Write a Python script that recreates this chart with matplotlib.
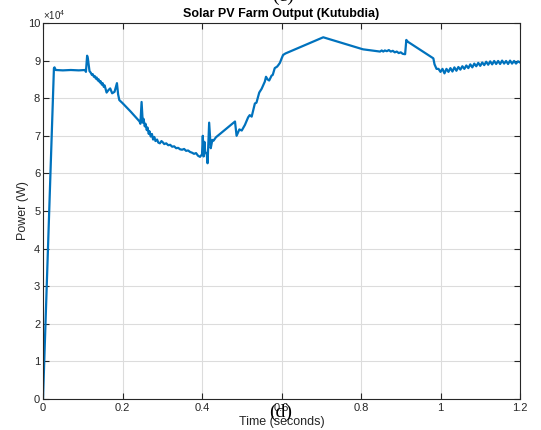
import matplotlib
matplotlib.use("Agg")
import matplotlib.pyplot as plt
import numpy as np

# Time (s) and Power (x1e4 W)
time_s = [0.0, 0.0275, 0.029, 0.032, 0.05, 0.07, 0.09, 0.106, 0.108, 0.111, 0.113, 0.117,
          0.120, 0.123, 0.125, 0.128, 0.130, 0.133, 0.135, 0.138, 0.140, 0.143, 0.145, 0.148,
          0.150, 0.153, 0.155, 0.158, 0.160, 0.165, 0.169, 0.174, 0.180, 0.186, 0.189, 0.192,
          0.20, 0.22, 0.243, 0.245, 0.248, 0.251, 0.253, 0.256, 0.258, 0.261, 0.263, 0.266,
          0.268, 0.271, 0.274, 0.277, 0.280, 0.283, 0.287, 0.290, 0.294, 0.298, 0.302,
          0.305, 0.31, 0.315, 0.32, 0.325, 0.33, 0.335, 0.34, 0.345, 0.35, 0.355, 0.36, 0.365,
          0.37, 0.375, 0.38, 0.385, 0.39, 0.395, 0.398, 0.400, 0.402, 0.404, 0.406, 0.408,
          0.412, 0.414, 0.418, 0.422, 0.426, 0.429, 0.435, 0.483, 0.487, 0.494, 0.500, 0.508,
          0.516, 0.520, 0.525, 0.533, 0.537, 0.544, 0.550, 0.558, 0.561, 0.565, 0.569, 0.575,
          0.578, 0.583, 0.589, 0.592, 0.596, 0.600, 0.604, 0.610, 0.705, 0.805, 0.848, 0.852,
          0.856, 0.86, 0.865, 0.87, 0.875, 0.88, 0.885, 0.89, 0.895, 0.90, 0.905, 0.911, 0.914,
          0.918, 0.982, 0.985, 0.99, 0.995, 1.0, 1.005, 1.01, 1.015, 1.02, 1.025, 1.03, 1.035,
          1.04, 1.045, 1.05, 1.055, 1.06, 1.065, 1.07, 1.075, 1.08, 1.085, 1.09, 1.095, 1.1,
          1.105, 1.11, 1.115, 1.12, 1.125, 1.13, 1.135, 1.14, 1.145, 1.15, 1.155, 1.16, 1.165,
          1.17, 1.175, 1.18, 1.185, 1.19, 1.195, 1.2]
power_e4 = [0.0, 8.80, 8.82, 8.75, 8.74, 8.75, 8.74, 8.75, 8.70, 9.13, 9.05, 8.72,
            8.68, 8.62, 8.64, 8.57, 8.59, 8.52, 8.55, 8.47, 8.50, 8.42, 8.45, 8.36,
            8.40, 8.30, 8.34, 8.22, 8.15, 8.22, 8.26, 8.13, 8.17, 8.40, 8.10, 7.95,
            7.87, 7.65, 7.38, 7.32, 7.90, 7.35, 7.45, 7.25, 7.32, 7.15, 7.22, 7.05,
            7.12, 6.98, 7.05, 6.90, 6.97, 6.86, 6.90, 6.82, 6.80, 6.86, 6.82,
            6.78, 6.80, 6.75, 6.76, 6.71, 6.72, 6.67, 6.68, 6.64, 6.63, 6.65, 6.60, 6.61,
            6.57, 6.55, 6.52, 6.54, 6.47, 6.44, 6.48, 6.50, 7.00, 6.45, 6.84, 6.58,
            6.50, 6.27, 7.35, 6.67, 6.89, 6.87, 6.96, 7.38, 7.00, 7.17, 7.14, 7.29,
            7.49, 7.55, 7.51, 7.86, 7.88, 8.15, 8.25, 8.44, 8.57, 8.50, 8.47, 8.60,
            8.62, 8.80, 8.84, 8.88, 8.94, 9.05, 9.15, 9.19, 9.62, 9.30, 9.24, 9.27,
            9.24, 9.27, 9.25, 9.28, 9.24, 9.26, 9.22, 9.24, 9.20, 9.22, 9.18, 9.17, 9.55,
            9.50, 9.06, 8.90, 8.78, 8.78, 8.70, 8.78, 8.66, 8.78, 8.70, 8.80, 8.71, 8.82,
            8.73, 8.83, 8.76, 8.85, 8.78, 8.87, 8.80, 8.90, 8.82, 8.92, 8.85, 8.94, 8.86,
            8.95, 8.88, 8.97, 8.89, 8.98, 8.90, 8.99, 8.91, 8.99, 8.91, 9.00, 8.92, 8.99,
            8.91, 9.00, 8.92, 8.99, 8.92, 8.98, 8.95]

xticks = [0, 0.2, 0.4, 0.6, 0.8, 1.0, 1.2]
xtick_labels = ["0", "0.2", "0.4", "0.6", "0.8", "1", "1.2"]
yticks_e4 = [0, 1, 2, 3, 4, 5, 6, 7, 8, 9, 10]

plt.rcParams['font.family'] = ['Liberation Sans', 'DejaVu Sans']
plt.rcParams['mathtext.fontset'] = 'custom'
plt.rcParams['mathtext.rm'] = 'Liberation Sans'

fig = plt.figure(figsize=(5.41, 4.30), dpi=100)
ax = fig.add_axes([43/541, 1 - 399/430, 477/541, 376/430])

power = np.array(power_e4) * 1e4
ax.plot(time_s, power, color='#0072BD', lw=1.6)

ax.set_xlim(0, 1.2)
ax.set_ylim(0, 1e5)
ax.set_xticks(xticks)
ax.set_xticklabels(xtick_labels)
ax.set_yticks(np.array(yticks_e4) * 1e4)
ax.set_yticklabels([str(v) for v in yticks_e4])

ax.grid(True, color='#dcdcdc', lw=0.8)
ax.set_axisbelow(True)
ax.tick_params(direction='in', top=True, right=True, length=4, width=0.8,
               labelsize=8, colors='#262626')
ax.tick_params(axis='x', pad=3)
ax.tick_params(axis='y', pad=2)
for s in ax.spines.values():
    s.set_color('#262626')
    s.set_linewidth(0.8)

ax.text(0.0, 1.003, r'$\times10^{4}$', transform=ax.transAxes, fontsize=7,
        color='#262626', ha='left', va='bottom')

ax.set_title('Solar PV Farm Output (Kutubdia)', fontsize=9, fontweight='bold', pad=4)
ax.set_xlabel('Time (seconds)', fontsize=9, color='#262626', labelpad=2)
ax.set_ylabel('Power (W)', fontsize=9, color='#262626', labelpad=-1)

fig.text(281/541, 1 - 412/430, '(d)', fontsize=14, family=['Liberation Serif', 'DejaVu Serif'],
         ha='center', va='center', color='black')
fig.text(283/541, 1.008, '(c)', fontsize=14, family=['Liberation Serif', 'DejaVu Serif'],
         ha='center', va='center', color='black')

fig.savefig('out.png', dpi=100, facecolor='white')
